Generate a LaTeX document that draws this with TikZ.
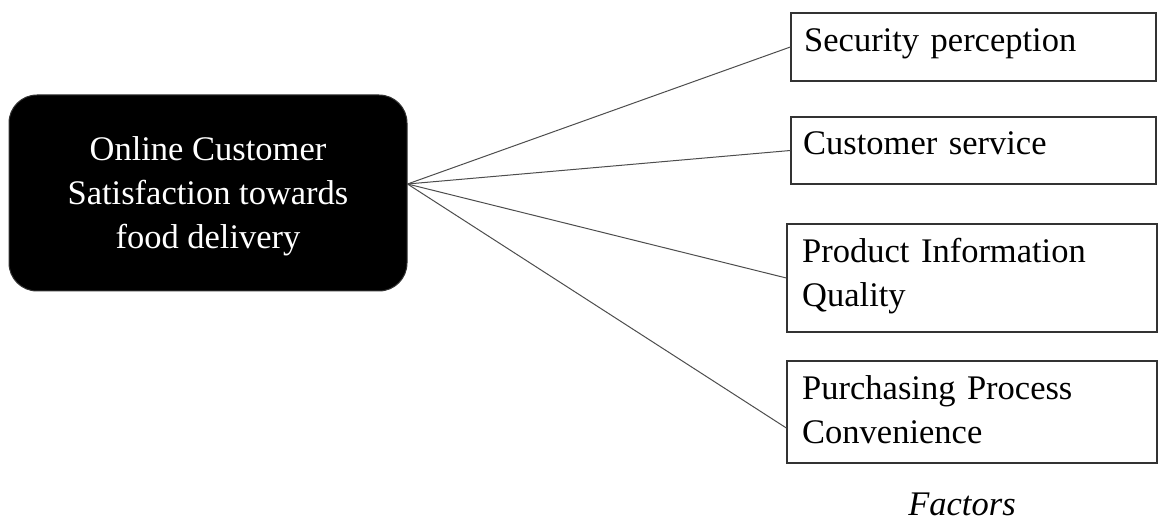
\documentclass[tikz,border=0pt]{standalone}
\usepackage{fontspec}
\setmainfont{Liberation Serif}
\usetikzlibrary{calc}
\definecolor{edge}{HTML}{333333}
\definecolor{conn}{HTML}{4D4D4D}
\tikzset{
  factorbox/.style={draw=edge, line width=1.3pt, inner sep=0pt, minimum width=#1},
  factortext/.style={anchor=base west, inner sep=0pt, text width=330pt, align=left,
    font=\fontsize{34.5}{44}\selectfont},
  mainbox/.style={fill=black, draw=edge, line width=1pt, rounded corners=28pt, text=white,
    inner sep=0pt, minimum width=398pt, minimum height=196pt, align=center,
    font=\fontsize{34.5}{44}\selectfont, text depth=0pt},
  conline/.style={draw=conn, line width=1pt}
}
\begin{document}
\begin{tikzpicture}[x=1pt,y=-1pt]
\useasboundingbox (0,0) rectangle (1159,521);
\node[mainbox] (main) at (208,193) {Online Customer\\Satisfaction towards\\food delivery};
\node[factorbox=365pt, minimum height=68pt] (b1) at (973.5,47) {};
\node[factorbox=365pt, minimum height=67pt] (b2) at (973.5,150.5) {};
\node[factorbox=370pt, minimum height=108pt] (b3) at (972,278) {};
\node[factorbox=370pt, minimum height=102pt] (b4) at (972,412) {};
\node[factortext] (t1) at (804,52) {Security perception};
\node[factortext] (t2) at (803,155) {Customer service};
\node[factortext] (t3) at (802,263) {Product Information\\Quality};
\node[factortext] (t4) at (802,399) {Purchasing Process\\Convenience};
\node[anchor=base, inner sep=0pt, font=\fontsize{34.5}{44}\selectfont\itshape] (fac) at (962,515) {Factors};
\coordinate (hub) at ($(main.east)+(0,-9)$);
\coordinate (e4) at ($(b4.west)+(0,16)$);
\draw[conline] (hub) -- (b1.west);
\draw[conline] (hub) -- (b2.west);
\draw[conline] (hub) -- (b3.west);
\draw[conline] (hub) -- (e4);
\end{tikzpicture}
\end{document}
